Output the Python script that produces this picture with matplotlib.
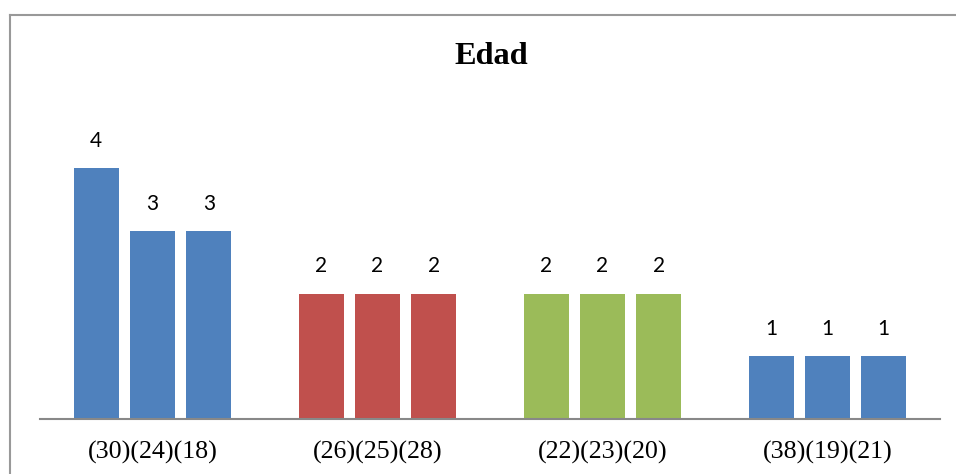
import matplotlib
matplotlib.use("Agg")
import matplotlib.pyplot as plt
import numpy as np

categories = ["(30)(24)(18)", "(26)(25)(28)", "(22)(23)(20)", "(38)(19)(21)"]
serie1 = [4, 2, 2, 1]
serie2 = [3, 2, 2, 1]
serie3 = [3, 2, 2, 1]
cat_colors = ["#4F81BD", "#C0504D", "#9BBB59", "#4F81BD"]
title = "Edad"

fig = plt.figure(figsize=(9.56, 4.74), dpi=100)
ax = fig.add_axes([40/956, 55/474, 900/956, (419-42.5)/474])

x = np.arange(len(categories))
width = 0.2
step = 0.25
for i, s in enumerate([serie1, serie2, serie3]):
    pos = x + (i - 1) * step
    bars = ax.bar(pos, s, width=width, color=cat_colors, zorder=2)
    for b, v in zip(bars, s):
        ax.annotate(str(v), (b.get_x() + b.get_width()/2, v), xytext=(0, 19.5),
                    textcoords="offset points", ha="center", va="center",
                    fontsize=15, family="Lato", color="black")

ax.set_xlim(-0.5, 3.5)
ax.set_ylim(0, 6)
ax.set_xticks(x)
ax.set_xticklabels(categories, family="Liberation Serif", fontsize=18.7)
ax.tick_params(axis="x", length=0, pad=16)
ax.set_yticks([])
for sp in ["top", "right", "left"]:
    ax.spines[sp].set_visible(False)
ax.spines["bottom"].set_color("#888888")
ax.spines["bottom"].set_linewidth(1.5)

fig.text(491/956, 1 - 57/474, title, ha="center", va="center",
         family="Liberation Serif", fontweight="bold", fontsize=23.3)

# outer chart border (left and top visible)
fig.add_artist(plt.Line2D([10/956, 10/956], [0, 1 - 15/474], transform=fig.transFigure,
                          color="#999999", linewidth=1.5))
fig.add_artist(plt.Line2D([10/956, 1], [1 - 15/474, 1 - 15/474], transform=fig.transFigure,
                          color="#999999", linewidth=1.5))

fig.savefig("out.png", dpi=100)
